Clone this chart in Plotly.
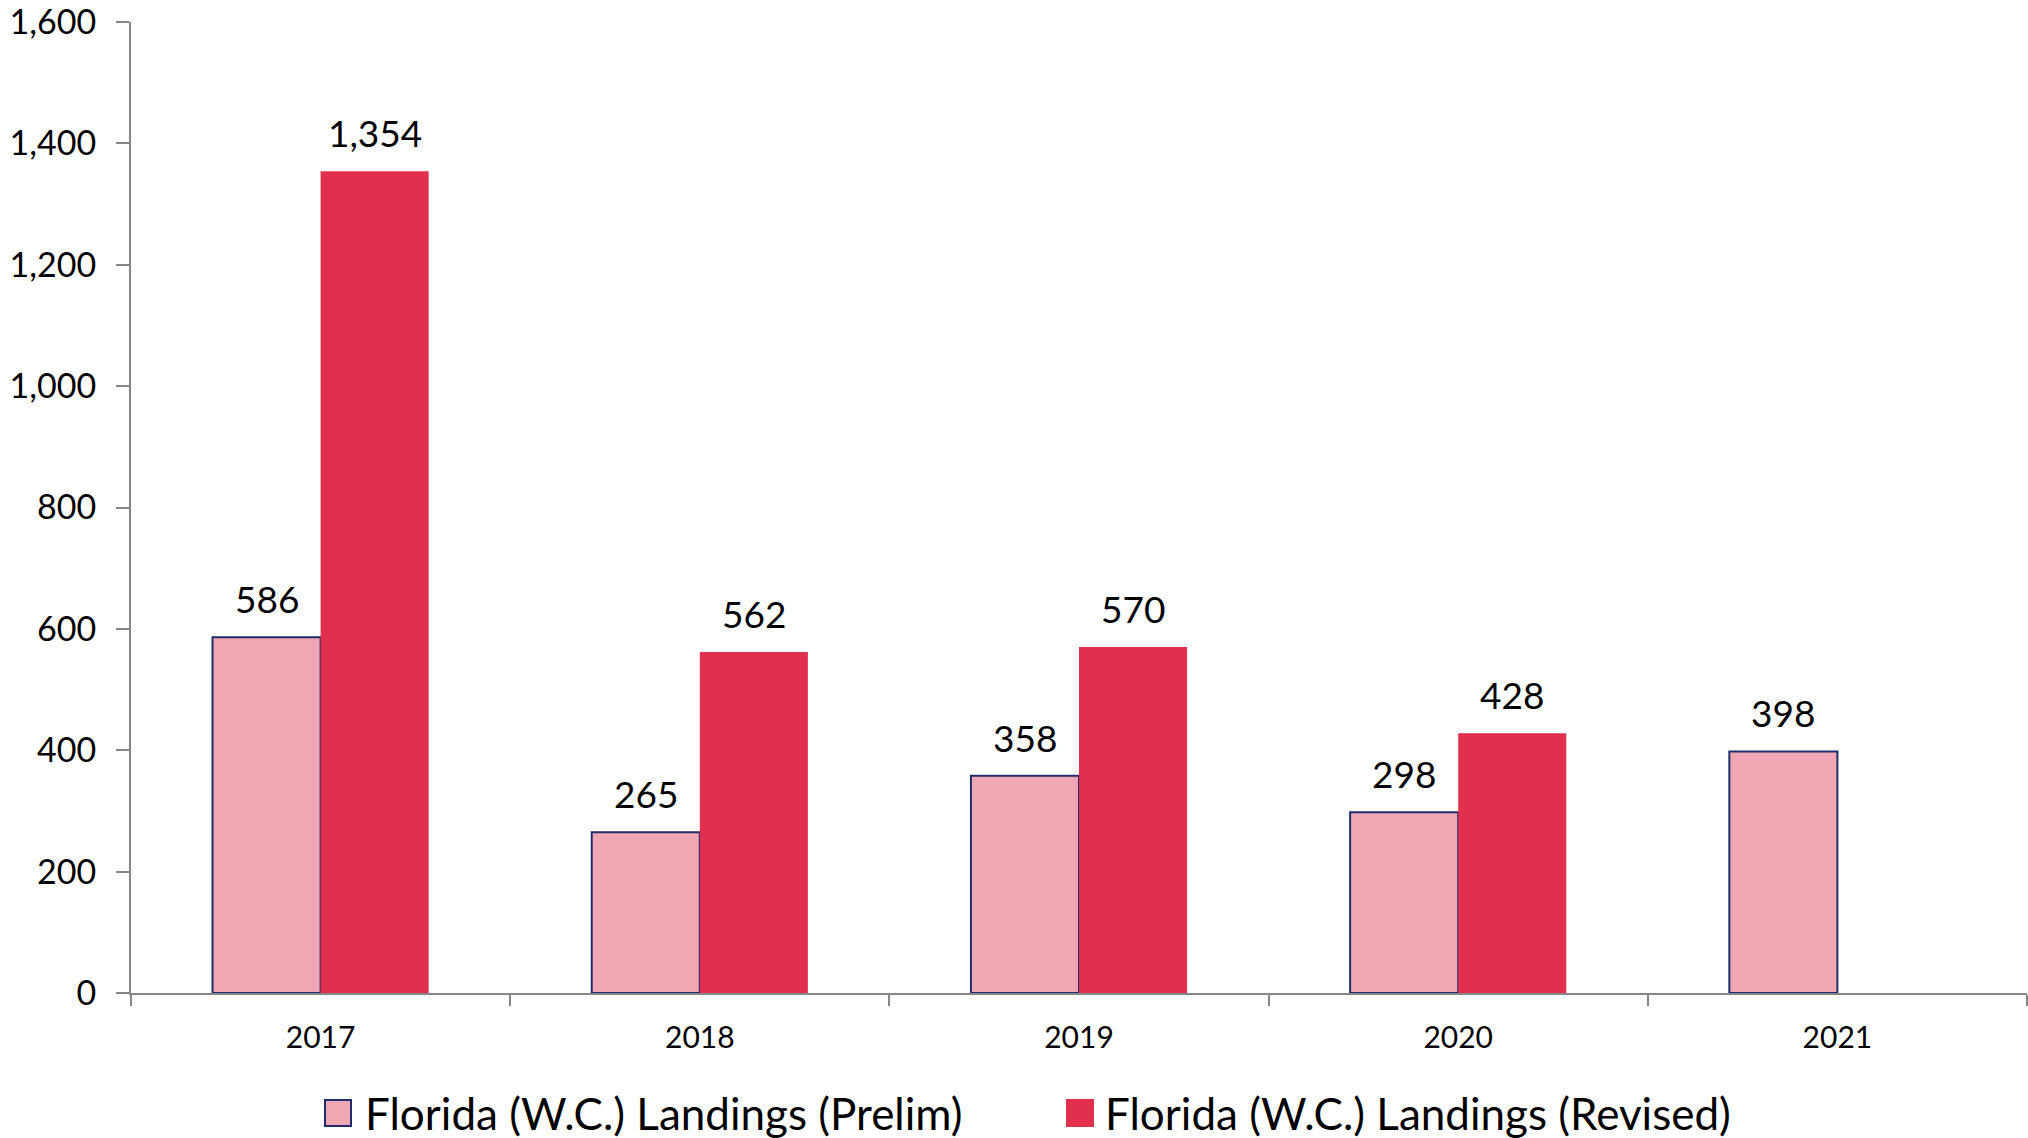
import plotly.graph_objects as go

years = ["2017", "2018", "2019", "2020", "2021"]
prelim = [586, 265, 358, 298, 398]
revised = [1354, 562, 570, 428, None]
prelim_name = "Florida (W.C.) Landings (Prelim)"
revised_name = "Florida (W.C.) Landings (Revised)"
y_ticks = [0, 200, 400, 600, 800, 1000, 1200, 1400, 1600]

FONT = "Lato"
PRELIM_COLOR = "#F0A7B3"
PRELIM_LINE = "#1F2D6E"
REVISED_COLOR = "#E0304E"

W, H = 2028, 1138
ML, MR, MT, MB = 131, 1, 22, 145
PW, PH = W - ML - MR, H - MT - MB

def fmt(v):
    return "" if v is None else f"{v:,}"

def px_x(p):  # window pixel -> paper x
    return (p - ML) / PW

def px_y(p):  # window pixel -> paper y
    return (H - MB - p) / PH

fig = go.Figure()
fig.add_trace(go.Bar(
    x=years, y=prelim, name=prelim_name, showlegend=False,
    marker=dict(color=PRELIM_COLOR, line=dict(color=PRELIM_LINE, width=2)),
))
fig.add_trace(go.Bar(
    x=years, y=revised, name=revised_name, showlegend=False,
    marker=dict(color=REVISED_COLOR, line=dict(color=REVISED_COLOR, width=0)),
))

# value labels above bars (category index positions)
bar_half = 54
annotations = []
for series, shift in ((prelim, -bar_half), (revised, bar_half)):
    for i, v in enumerate(series):
        if v is None:
            continue
        annotations.append(dict(
            x=i, y=v, xref="x", yref="y", text=fmt(v), showarrow=False,
            xanchor="center", yanchor="bottom", xshift=shift, yshift=14,
            font=dict(family=FONT, size=37, color="#000000"),
        ))

# manual legend
shapes = []
legend_items = [
    (prelim_name, PRELIM_COLOR, PRELIM_LINE, 325, 363),
    (revised_name, REVISED_COLOR, REVISED_COLOR, 1067, 1103),
]
for name, fill, line, mx, tx in legend_items:
    shapes.append(dict(
        type="rect", xref="paper", yref="paper",
        x0=px_x(mx), x1=px_x(mx + 26), y0=px_y(1126), y1=px_y(1100),
        fillcolor=fill, line=dict(color=line, width=2),
    ))
    annotations.append(dict(
        x=px_x(tx), y=px_y(1113), xref="paper", yref="paper", text=name,
        showarrow=False, xanchor="left", yanchor="middle",
        font=dict(family=FONT, size=44, color="#000000"),
    ))

fig.update_layout(
    width=W, height=H,
    barmode="group", bargap=0.43, bargroupgap=0,
    plot_bgcolor="white", paper_bgcolor="white",
    margin=dict(l=ML, r=MR, t=MT, b=MB, autoexpand=False),
    font=dict(family=FONT, color="#000000"),
    showlegend=False,
    annotations=annotations, shapes=shapes,
    yaxis=dict(
        range=[0, 1600], tickvals=y_ticks, ticktext=[f"{v:,}" for v in y_ticks],
        showgrid=False, zeroline=False, automargin=False,
        showline=True, linecolor="#868686", linewidth=2,
        ticks="outside", ticklen=13, tickcolor="#868686", tickwidth=2,
        ticklabelstandoff=13, ticklabeloverflow="allow",
        tickfont=dict(family=FONT, size=34, color="#000000"),
    ),
    xaxis=dict(
        type="category", range=[-0.5, len(years) - 0.5],
        showgrid=False, showline=True, linecolor="#868686", linewidth=2,
        automargin=False,
        ticks="outside", tickson="boundaries", ticklen=11,
        tickcolor="#868686", tickwidth=2, ticklabelstandoff=17,
        tickfont=dict(family=FONT, size=30, color="#000000"),
    ),
)

fig.write_html(
    "out.html",
    config={"displayModeBar": False},
    post_script="document.body.style.margin='0';document.body.style.overflow='hidden';",
)
